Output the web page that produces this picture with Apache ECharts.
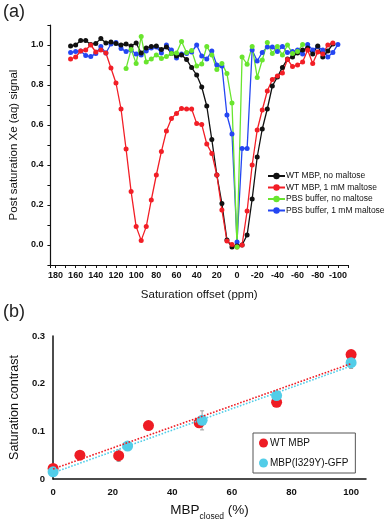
<!DOCTYPE html>
<html><head><meta charset="utf-8">
<script src="https://cdn.jsdelivr.net/npm/echarts@6/dist/echarts.min.js"></script>
<style>html,body{margin:0;padding:0;background:#fff}#c{width:387px;height:522px}</style>
</head><body><div id="c"></div>
<script>
// ---- Panel (a) data: saturation offset (ppm) vs post-saturation signal ----
const offsetsWT = [165,160,155,150,145,140,135,130,125,120,115,110,105,100,95,90,85,80,75,70,65,60,55,50,45,40,35,30,25,20,15,10,5,0,-5,-10,-15,-20,-25,-30,-35,-40,-45,-50,-55,-60,-65,-70,-75,-80,-85,-90,-95];
const wtNoMaltose = [0.995,1.0,1.023,1.022,1.003,1.008,1.032,1.01,1.015,1.008,1.0,1.005,0.995,1.01,0.96,0.985,0.993,0.995,0.978,0.99,0.958,0.945,0.95,0.927,0.887,0.85,0.79,0.695,0.527,0.35,0.207,0.025,-0.01,-0.005,0.0,0.05,0.23,0.44,0.58,0.68,0.795,0.84,0.888,0.93,0.94,0.96,0.975,0.985,0.955,0.995,0.94,0.97,1.005];
const wtMaltose = [0.93,0.94,0.97,0.975,1.0,0.965,0.975,0.96,0.885,0.81,0.68,0.48,0.267,0.092,0.023,0.092,0.225,0.35,0.467,0.57,0.633,0.658,0.683,0.68,0.68,0.608,0.603,0.505,0.458,0.35,0.175,0.02,0.003,-0.01,0.0,0.17,0.40,0.575,0.675,0.77,0.828,0.845,0.86,0.928,0.892,0.9,0.915,0.975,0.908,0.965,0.955,1.0,1.01];
const offsetsPbsNo = [110,105,100,95,90,85,80,75,70,65,60,55,50,45,40,35,30,25,20,15,10,5,0,-5,-10,-15,-20,-25,-30,-35,-40,-45,-50,-55,-60,-65];
const pbsNoMaltose = [0.883,0.978,0.908,1.042,0.915,0.93,0.95,0.933,0.942,0.958,0.96,1.017,0.962,0.972,0.895,0.905,0.993,0.95,0.877,0.908,0.857,0.71,-0.01,0.94,0.904,0.993,0.838,0.925,1.012,0.958,0.992,0.95,1.0,0.958,0.967,1.003];
const offsetsPbsMal = [165,160,155,150,145,140,135,130,125,120,115,110,105,100,95,90,85,80,75,70,65,60,55,50,45,40,35,30,25,20,15,10,5,0,-5,-10,-15,-20,-25,-30,-35,-40,-45,-50,-55,-60,-65,-70,-75,-80,-85,-90,-95,-100];
const pbsMaltose = [0.962,0.967,0.97,0.947,0.942,0.958,0.992,0.96,1.005,1.012,0.983,0.967,0.975,0.955,0.95,0.97,0.985,0.99,0.96,1.0,0.975,0.935,0.955,0.958,0.965,1.0,0.945,0.93,0.97,0.9,0.895,0.65,0.555,0.015,0.483,0.483,0.975,0.92,0.963,0.99,0.99,0.967,0.992,0.962,0.967,0.975,0.955,1.003,0.975,0.992,0.975,0.94,0.962,1.003];
const seriesNamesA = ['WT MBP, no maltose','WT MBP, 1 mM maltose','PBS buffer, no maltose','PBS buffer, 1 mM maltose'];

// ---- Panel (b) data: MBP closed (%) vs saturation contrast ----
const mbpClosedWT = [0,9,22,32,49,75,100];
const contrastWT = [0.022,0.05,0.049,0.112,0.118,0.161,0.261];
const errWT = [0.004,0,0.012,0,0,0,0.005];
const mbpClosedGFP = [0,25,50,75,100];
const contrastGFP = [0.015,0.069,0.123,0.175,0.244];
const errGFP = [0.004,0.008,0.02,0.006,0.012];
const fitX = [0,100];
const fitWT = [0.021,0.242];
const fitGFP = [0.013,0.237];
const seriesNamesB = ['WT MBP','MBP(I329Y)-GFP'];

const FONT = '"Liberation Sans", Arial, sans-serif';
const colBlack='#111111', colRed='#f21e26', colGreen='#69e52e', colBlue='#2446f2';
const colRedB='#ee1c24', colCyan='#52cde8';

function pairs(xs, ys){ return xs.map((x,i)=>[x, ys[i]]); }
function errData(xs, ys, es){ return xs.map((x,i)=>[x, ys[i]-es[i], ys[i]+es[i]]).filter((d,i)=>es[i]>0); }

const lineSeries = (name, xs, ys, color) => ({
  name, type:'line', xAxisIndex:0, yAxisIndex:0, data: pairs(xs, ys),
  symbol:'circle', symbolSize:5, showSymbol:true,
  lineStyle:{color, width:1.3}, itemStyle:{color}, z:2, animation:false
});

const errSeries = (data) => ({
  type:'custom', xAxisIndex:1, yAxisIndex:1, data, z:1, silent:true, animation:false,
  renderItem:(params, api) => {
    const lo = api.coord([api.value(0), api.value(1)]);
    const hi = api.coord([api.value(0), api.value(2)]);
    return {type:'group', children:[
      {type:'line', shape:{x1:lo[0],y1:lo[1],x2:hi[0],y2:hi[1]}, style:{stroke:'#9a9a9a', lineWidth:1}},
      {type:'line', shape:{x1:lo[0]-2,y1:lo[1],x2:lo[0]+2,y2:lo[1]}, style:{stroke:'#9a9a9a', lineWidth:1}},
      {type:'line', shape:{x1:hi[0]-2,y1:hi[1],x2:hi[0]+2,y2:hi[1]}, style:{stroke:'#9a9a9a', lineWidth:1}}
    ]};
  }
});

const chart = echarts.init(document.getElementById('c'), null, {renderer:'canvas'});
const option = {
  backgroundColor:'#ffffff',
  animation:false,
  textStyle:{fontFamily:FONT},
  graphic:[
    {type:'text', left:3, top:3, style:{text:'(a)', font:'18px '+FONT, fill:'#222'}},
    {type:'text', left:3, top:303, style:{text:'(b)', font:'18px '+FONT, fill:'#222'}}
  ],
  grid:[
    {left:50, top:25, width:298, height:240},
    {left:49, top:336, width:317, height:147}
  ],
  legend:[
    {data:seriesNamesA, orient:'vertical', left:267, top:171.5, padding:0, itemGap:2.5,
     itemWidth:17, itemHeight:8,
     textStyle:{fontSize:8.5, fontFamily:FONT, color:'#111', padding:[0,0,0,-4]}},
    {data:seriesNamesB, orient:'vertical', left:253, top:433, padding:[5,7,5,6], itemGap:10,
     itemWidth:9, itemHeight:9, icon:'circle', borderColor:'#555', borderWidth:1,
     textStyle:{fontSize:10, fontFamily:FONT, color:'#111', padding:[0,0,0,-3]}}
  ],
  xAxis:[
    {gridIndex:0, type:'value', min:-110, max:185, interval:10, inverse:true,
     name:'Saturation offset (ppm)', nameLocation:'middle', nameGap:24,
     nameTextStyle:{fontSize:11.5, fontFamily:FONT, color:'#111'},
     axisLine:{onZero:false, lineStyle:{color:'#111', width:1.2}},
     axisTick:{show:true, inside:false, length:3, lineStyle:{color:'#111'}},
     axisLabel:{fontSize:9, fontWeight:'bold', color:'#111', margin:6, fontFamily:FONT,
       formatter:v=>{const r=Math.round(v); return (r%20===0 && r>=-100 && r<=180)? String(r) : '';}},
     splitLine:{show:false}},
    {gridIndex:1, type:'value', min:0, max:105, interval:20,
     name:'{a|MBP}{s|closed}{a| (%)}', nameLocation:'middle', nameGap:20,
     nameTextStyle:{fontFamily:FONT, color:'#111', rich:{
       a:{fontSize:13.5, fontFamily:FONT, color:'#111', lineHeight:18, verticalAlign:'bottom'},
       s:{fontSize:8.5, fontFamily:FONT, color:'#111', lineHeight:18, verticalAlign:'bottom', padding:[0,0,-4,0]}}},
     axisLine:{onZero:false, lineStyle:{color:'#111', width:1.5}},
     axisTick:{show:false},
     axisLabel:{fontSize:9.5, fontWeight:'bold', color:'#111', margin:8, fontFamily:FONT,
       formatter:v=>{const r=Math.round(v); return (r%20===0 && r<=100)? String(r) : '';}},
     splitLine:{show:false}}
  ],
  yAxis:[
    {gridIndex:0, type:'value', min:-0.1, max:1.1, interval:0.1,
     name:'Post saturation Xe (aq) signal', nameLocation:'middle', nameGap:26,
     nameTextStyle:{fontSize:11.5, fontFamily:FONT, color:'#111'},
     axisLine:{show:true, onZero:false, lineStyle:{color:'#111', width:1.2}},
     axisTick:{show:true, inside:false, length:3, lineStyle:{color:'#111'}},
     axisLabel:{fontSize:9, fontWeight:'bold', color:'#111', margin:7, fontFamily:FONT,
       formatter:v=>{const r=Math.round(v*10); return (r%2===0 && r>=0 && r<=10)? (r/10).toFixed(1) : '';}},
     splitLine:{show:false}},
    {gridIndex:1, type:'value', min:0, max:0.3, interval:0.1,
     name:'Saturation contrast', nameLocation:'middle', nameGap:27,
     nameTextStyle:{fontSize:12.5, fontFamily:FONT, color:'#111'},
     axisLine:{show:true, onZero:false, lineStyle:{color:'#111', width:1.5}},
     axisTick:{show:false},
     axisLabel:{fontSize:9.5, fontWeight:'bold', color:'#111', margin:8, fontFamily:FONT,
       formatter:v=>{const r=Math.round(v*10); return r===0 ? '0' : (r/10).toFixed(1);}},
     splitLine:{show:false}}
  ],
  series:[
    lineSeries(seriesNamesA[3], offsetsPbsMal, pbsMaltose, colBlue),
    lineSeries(seriesNamesA[0], offsetsWT, wtNoMaltose, colBlack),
    lineSeries(seriesNamesA[1], offsetsWT, wtMaltose, colRed),
    lineSeries(seriesNamesA[2], offsetsPbsNo, pbsNoMaltose, colGreen),
    errSeries(errData(mbpClosedWT, contrastWT, errWT)),
    errSeries(errData(mbpClosedGFP, contrastGFP, errGFP)),
    {name:seriesNamesB[0], type:'scatter', xAxisIndex:1, yAxisIndex:1, data:pairs(mbpClosedWT, contrastWT),
     symbol:'circle', symbolSize:11, itemStyle:{color:colRedB, opacity:1}, z:3},
    {name:seriesNamesB[1], type:'scatter', xAxisIndex:1, yAxisIndex:1, data:pairs(mbpClosedGFP, contrastGFP),
     symbol:'circle', symbolSize:11, itemStyle:{color:colCyan, opacity:1}, z:4},
    {type:'line', xAxisIndex:1, yAxisIndex:1, data:pairs(fitX, fitWT), showSymbol:false, symbol:'none',
     lineStyle:{color:colRedB, width:1.6, type:'dotted'}, z:5, silent:true},
    {type:'line', xAxisIndex:1, yAxisIndex:1, data:pairs(fitX, fitGFP), showSymbol:false, symbol:'none',
     lineStyle:{color:colCyan, width:1.6, type:'dotted'}, z:5, silent:true}
  ]
};
chart.setOption(option);
</script>
</body></html>
